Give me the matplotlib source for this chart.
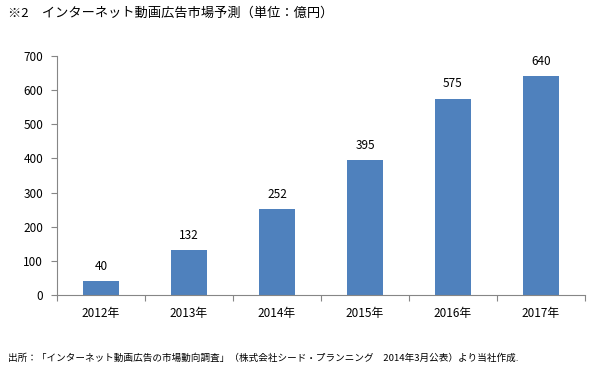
import matplotlib
matplotlib.use("Agg")
import matplotlib.pyplot as plt

plt.rcParams['font.family'] = ['Noto Sans CJK JP', 'DejaVu Sans']

categories = ["2012年", "2013年", "2014年", "2015年", "2016年", "2017年"]
values = [40, 132, 252, 395, 575, 640]
yticks = [0, 100, 200, 300, 400, 500, 600, 700]
title = "※2　インターネット動画広告市場予測（単位：億円）"
source = "出所：「インターネット動画広告の市場動向調査」（株式会社シード・プランニング　2014年3月公表）より当社作成."

fig = plt.figure(figsize=(5.92, 3.83), dpi=100)
ax = fig.add_axes([57/592, 1-295/383, 528/592, 239/383])

x = list(range(len(categories)))
ax.bar(x, values, width=0.41, color="#4F81BD", zorder=2)
for xi, v in zip(x, values):
    ax.annotate(str(v), (xi, v), xytext=(0, 6), textcoords="offset points",
                ha="center", va="bottom", fontsize=8.5, color="#000000")

ax.set_xlim(-0.5, len(categories) - 0.5)
ax.set_ylim(0, 700)
ax.set_yticks(yticks)
ax.set_yticklabels([str(t) for t in yticks], fontsize=8.5)
ax.set_xticks(x)
ax.set_xticklabels(categories, fontsize=8.5)
ax.set_xticks([i - 0.5 for i in range(len(categories) + 1)], minor=True)
ax.tick_params(axis='x', which='major', length=0, pad=9)
ax.tick_params(axis='x', which='minor', length=4, color="#868686", width=0.8, direction='out')
ax.tick_params(axis='y', length=4, color="#868686", width=0.8, direction='out', pad=6)

for s in ["top", "right"]:
    ax.spines[s].set_visible(False)
for s in ["left", "bottom"]:
    ax.spines[s].set_color("#868686")
    ax.spines[s].set_linewidth(0.8)

fig.text(8/592, 1-13/383, title, fontsize=9.5, va="center", ha="left")
fig.text(8/592, 1-358/383, source, fontsize=6.9, va="center", ha="left")

fig.savefig("out.png", dpi=100)
